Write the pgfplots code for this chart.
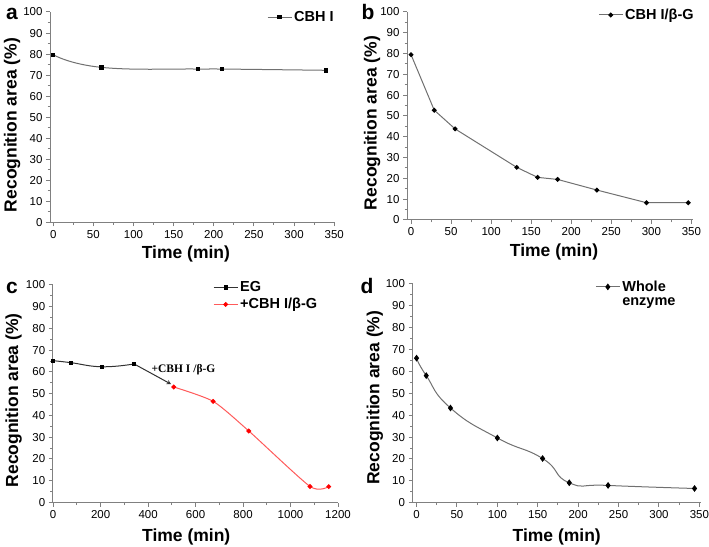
\documentclass[border=0pt]{standalone}
\usepackage{fontspec}
\setmainfont{Liberation Sans}
\newfontfamily\annofont{Liberation Serif}
\usepackage{pgfplots}
\pgfplotsset{compat=1.18}

\definecolor{axgray}{RGB}{128,128,128}
\definecolor{linegray}{RGB}{112,112,112}
\definecolor{egline}{RGB}{50,50,50}
\definecolor{redline}{RGB}{255,90,90}

\pgfplotsset{
  panel/.style={
    scale only axis,
    anchor=south west,
    axis lines=left,
    axis line style={axgray, line width=1bp, -},
    tick style={axgray, line width=1bp},
    tick align=outside,
    major tick length=4bp,
    minor tick length=2.5bp,
    minor x tick num=1,
    minor y tick num=1,
    ymin=0, ymax=100,
    ytick={0,10,...,100},
    /pgf/number format/assume math mode=true,
    /pgf/number format/1000 sep={},
    tick label style={font=\fontsize{11.5bp}{13bp}\selectfont, black},
    label style={font=\bfseries\fontsize{17.5bp}{20bp}\selectfont},
    xlabel={Time (min)},
    ylabel={Recognition area (\%)},
    legend cell align=left,
    legend style={draw=none, fill=none, inner sep=0pt, row sep=1bp,
      font=\bfseries\fontsize{14.5bp}{16bp}\selectfont},
    legend image code/.code={\draw[mark repeat=2,mark phase=2]
      plot coordinates {(0bp,0bp) (12bp,0bp) (24bp,0bp)};},
    clip=false,
  },
  ylab/.style 2 args={ylabel style={at={(axis description cs:#1,#2)}, anchor=center}},
  xlab/.style 2 args={xlabel style={at={(axis description cs:#1,#2)}, anchor=center}},
}

\begin{document}
\begin{tikzpicture}
\useasboundingbox (0bp,0bp) rectangle (709bp,547bp);

% panel a
\begin{axis}[panel, at={(50bp,324.5bp)}, width=285bp, height=210.5bp,
  xmin=-4, xmax=351, xtick={0,50,...,350},
  ylab={-0.133}{0.463}, xlab={0.477}{-0.150},
  legend style={at={(axis description cs:0.761,0.976)}, anchor=west}]
\addplot[linegray, line width=1bp, smooth, tension=0.8, mark=square*, mark size=1.7bp,
  mark options={black, solid}] coordinates {
  (0,79.7) (60,73.7) (180,72.9) (210,72.9) (340,72.3)
};
\addlegendentry{CBH I}
\end{axis}

% panel b
\begin{axis}[panel, at={(407bp,327bp)}, width=286bp, height=208bp,
  xmin=-5, xmax=352, xtick={0,50,...,350},
  ylab={-0.122}{0.466}, xlab={0.514}{-0.154},
  legend style={at={(axis description cs:0.668,0.986)}, anchor=west}]
\addplot[linegray, line width=1bp, mark=*, mark size=1.9bp,
  mark options={black, solid}] coordinates {
  (0,79.5) (29,52.8) (55,43.8) (132,25.3) (158,20.5) (183,19.5)
  (232,14.4) (294,8.3) (346,8.3)
};
\addlegendentry{CBH I/β-G}
\end{axis}

% panel c
\begin{axis}[panel, at={(52.7bp,44.5bp)}, width=285.3bp, height=217.5bp,
  xmin=-2, xmax=1200, xtick={0,200,...,1200},
  ylab={-0.137}{0.47}, xlab={0.468}{-0.159},
  legend style={at={(axis description cs:0.562,0.949)}, anchor=west}]
\addplot[egline, line width=1bp, smooth, tension=0.8, mark=square*, mark size=1.6bp,
  mark options={black, solid}] coordinates {
  (0,65.2) (74,64.3) (206,62.4) (341,63.7)
};
\addlegendentry{EG}
\addplot[redline, line width=1bp, smooth, tension=0.4, mark=*, mark size=1.9bp,
  mark options={red, solid}] coordinates {
  (508,53.1) (674,46.5) (824,32.9) (1082,7.4) (1161,7.3)
};
\addlegendentry{+CBH I/β-G}
\draw[egline, line width=1bp, -stealth] (axis cs:341,63.7) -- (axis cs:497,54.4);
\node[anchor=west, font=\annofont\bfseries\fontsize{11.5bp}{13bp}\selectfont, inner sep=0pt]
  at (axis cs:414,60.9) {+CBH I /β-G};
\end{axis}

% panel d
\begin{axis}[panel, at={(412.5bp,44.3bp)}, width=288.5bp, height=218.7bp,
  xmin=-5, xmax=352, xtick={0,50,...,350},
  ylab={-0.130}{0.48}, xlab={0.50}{-0.155},
  legend style={at={(axis description cs:0.633,0.954)}, anchor=west}]
\addplot[linegray, line width=1bp, smooth, tension=0.9, mark=diamond*, mark size=2.6bp,
  mark options={black, solid}] coordinates {
  (0,66.1) (12,58.1) (42,43.3) (100,29.6) (156,20.2) (189,9.1) (237,7.9) (344,6.5)
};
\addlegendentry{Whole}
\addlegendimage{empty legend}
\addlegendentry{enzyme}
\end{axis}

% panel letters
\begin{scope}[every node/.style={font=\bfseries\fontsize{21bp}{22bp}\selectfont, inner sep=0pt}]
\node at (12bp,533bp) {a};
\node at (368bp,535bp) {b};
\node at (12bp,259bp) {c};
\node at (367bp,261bp) {d};
\end{scope}
\end{tikzpicture}
\end{document}
